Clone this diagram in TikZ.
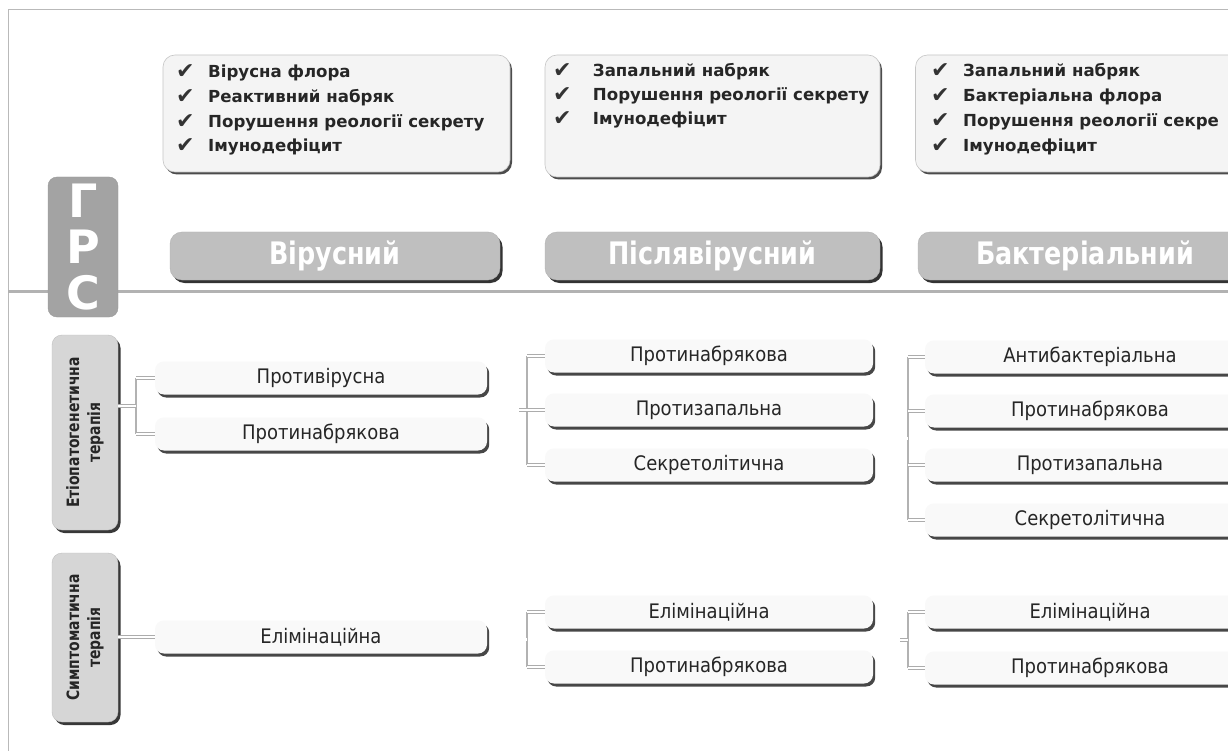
\documentclass[tikz,border=0pt]{standalone}
\usepackage{fontspec}
\setmainfont{DejaVu Sans}
\newfontfamily\condfont{DejaVu Sans}[FakeStretch=0.82]
\newfontfamily\itemfont{DejaVu Sans}[FakeStretch=0.9]
\usetikzlibrary{shadows}
\newcommand\ckm[1][32pt]{\makebox[#1][l]{\raisebox{-1pt}{\fontsize{22}{22}\selectfont\color{black!80}✔}}}
\tikzset{
  frameline/.style={draw=gray!55, line width=0.8pt},
  rulebar/.style={draw=gray!60, line width=3pt},
  topbox/.style={draw=gray!45, line width=0.6pt, fill=gray!9, rounded corners=12pt,
    inner sep=0pt, drop shadow={shadow xshift=2pt, shadow yshift=-2.5pt, opacity=1, fill=black!70}},
  ckl/.style={anchor=west, inner sep=0pt, text=black!85,
    font=\bfseries\fontsize{16.6}{20}\selectfont, text height=12pt, text depth=4pt},
  hdr/.style={draw=gray!60, fill=gray!50, rounded corners=12pt, inner sep=0pt,
    minimum height=48pt, text=white, font=\condfont\bfseries\fontsize{31}{34}\selectfont,
    drop shadow={shadow xshift=2.5pt, shadow yshift=-3pt, opacity=1, fill=black!80}},
  grsbox/.style={draw=gray!80, fill=gray!72, rounded corners=9pt, inner sep=0pt,
    minimum width=70pt, minimum height=140pt, text=white, align=center,
    font=\bfseries\fontsize{46}{46}\selectfont},
  labbox/.style={draw=gray!50, fill=gray!32, rounded corners=10pt, inner sep=0pt,
    minimum width=66pt,
    drop shadow={shadow xshift=2.5pt, shadow yshift=-3pt, opacity=1, fill=black!78}},
  labtxt/.style={rotate=90, align=center, inner sep=0pt, text=black!85,
    font=\condfont\bfseries\fontsize{17}{21}\selectfont},
  item/.style={fill=gray!5, rounded corners=9pt, inner sep=0pt,
    minimum width=330pt, minimum height=33pt, text=black!85,
    font=\itemfont\fontsize{20}{22}\selectfont,
    drop shadow={shadow xshift=2.2pt, shadow yshift=-3pt, opacity=1, fill=black!72}},
  brk/.style={draw=gray!60, line width=1.6pt},
  tick/.style={draw=gray!65, line width=0.8pt, double=white, double distance=2.2pt}
}
\begin{document}
\begin{tikzpicture}[x=1pt,y=-1pt]
\useasboundingbox (0,0) rectangle (1228,751);
\clip (0,0) rectangle (1228,751);
\fill[white] (0,0) rectangle (1228,751);

% frame and rule
\draw[frameline] (8,751) -- (8,9) -- (1228,9);
\draw[rulebar] (8,291) -- (1228,291);

% top boxes
\node[topbox, minimum width=347pt, minimum height=117pt] (t1) at (336.5,113.5) {};
\node[topbox, minimum width=335pt, minimum height=122pt] (t2) at (712.5,116) {};
\node[topbox, minimum width=345pt, minimum height=117pt] (t3) at (1088,113.5) {};

\node[ckl] (t1a) at (176,74)  {\ckm Вірусна флора};
\node[ckl] (t1b) at (176,99)  {\ckm Реактивний набряк};
\node[ckl] (t1c) at (176,124) {\ckm Порушення реології секрету};
\node[ckl] (t1d) at (176,148) {\ckm Імунодефіцит};

\node[ckl] (t2a) at (553,73)  {\ckm[34pt] Запальний набряк};
\node[ckl] (t2b) at (553,97)  {\ckm[34pt] Порушення реології секрету};
\node[ckl] (t2c) at (553,121) {\ckm[34pt] Імунодефіцит};

\node[ckl] (t3a) at (931,73)  {\ckm Запальний набряк};
\node[ckl] (t3b) at (931,98)  {\ckm Бактеріальна флора};
\node[ckl] (t3c) at (931,123) {\ckm Порушення реології секре};
\node[ckl] (t3d) at (931,148) {\ckm Імунодефіцит};

% headers
\node[hdr, minimum width=330pt] (h1) at (335,256) {Вірусний};
\node[hdr, minimum width=335pt] (h2) at (712.5,256) {Післявірусний};
\node[hdr, minimum width=334pt] (h3) at (1085,256) {Бактеріальний};

% GRS box
\node[grsbox] (grs) at (83,247) {Г\\Р\\С};

% therapy labels
\node[labbox, minimum height=195pt] (l1) at (85,432.5) {};
\node[labtxt] (l1t) at (l1.center) {Етіопатогенетична\\терапія};
\node[labbox, minimum height=169pt] (l2) at (85,637.5) {};
\node[labtxt] (l2t) at (l2.center) {Симптоматична\\терапія};

% items, left column
\node[item, minimum width=332pt] (a1) at (321,378) {Противірусна};
\node[item, minimum width=332pt] (a2) at (321,434) {Протинабрякова};
\node[item, minimum width=332pt] (a3) at (321,637) {Елімінаційна};

% items, middle column
\node[item, minimum width=328pt] (b1) at (709,356) {Протинабрякова};
\node[item, minimum width=328pt] (b2) at (709,410) {Протизапальна};
\node[item, minimum width=328pt] (b3) at (709,465) {Секретолітична};
\node[item, minimum width=328pt] (b4) at (709,612) {Елімінаційна};
\node[item, minimum width=328pt] (b5) at (709,667) {Протинабрякова};

% items, right column
\node[item] (c1) at (1090,357) {Антибактеріальна};
\node[item] (c2) at (1090,411) {Протинабрякова};
\node[item] (c3) at (1090,465) {Протизапальна};
\node[item] (c4) at (1090,520) {Секретолітична};
\node[item] (c5) at (1090,612) {Елімінаційна};
\node[item] (c6) at (1090,668) {Протинабрякова};

% connectors, left column
\coordinate (ka) at (136,406);
\draw[brk] (a1.west -| ka) -- (a2.west -| ka);
\draw[tick] (l1.east |- ka) -- (ka);
\draw[tick] (a1.west -| ka) -- (a1.west);
\draw[tick] (a2.west -| ka) -- (a2.west);
\draw[tick] (l2.east |- a3.west) -- (a3.west);

% connectors, middle column
\coordinate (kb) at (527,410);
\coordinate (kbs) at (519,410);
\draw[brk] (b1.west -| kb) -- (b3.west -| kb);
\draw[tick] (kbs) -- (kb);
\draw[tick] (b1.west -| kb) -- (b1.west);
\draw[tick] (b2.west -| kb) -- (b2.west);
\draw[tick] (b3.west -| kb) -- (b3.west);
\coordinate (kb2) at (527,639.5);
\coordinate (kb2s) at (519,639.5);
\draw[brk] (b4.west -| kb2) -- (b5.west -| kb2);
\draw[tick] (kb2s) -- (kb2);
\draw[tick] (b4.west -| kb2) -- (b4.west);
\draw[tick] (b5.west -| kb2) -- (b5.west);

% connectors, right column
\coordinate (kc) at (908,438.5);
\coordinate (kcs) at (900,438.5);
\draw[brk] (c1.west -| kc) -- (c4.west -| kc);
\draw[tick] (kcs) -- (kc);
\draw[tick] (c1.west -| kc) -- (c1.west);
\draw[tick] (c2.west -| kc) -- (c2.west);
\draw[tick] (c3.west -| kc) -- (c3.west);
\draw[tick] (c4.west -| kc) -- (c4.west);
\coordinate (kc2) at (908,640);
\coordinate (kc2s) at (900,640);
\draw[brk] (c5.west -| kc2) -- (c6.west -| kc2);
\draw[tick] (kc2s) -- (kc2);
\draw[tick] (c5.west -| kc2) -- (c5.west);
\draw[tick] (c6.west -| kc2) -- (c6.west);
\end{tikzpicture}
\end{document}
